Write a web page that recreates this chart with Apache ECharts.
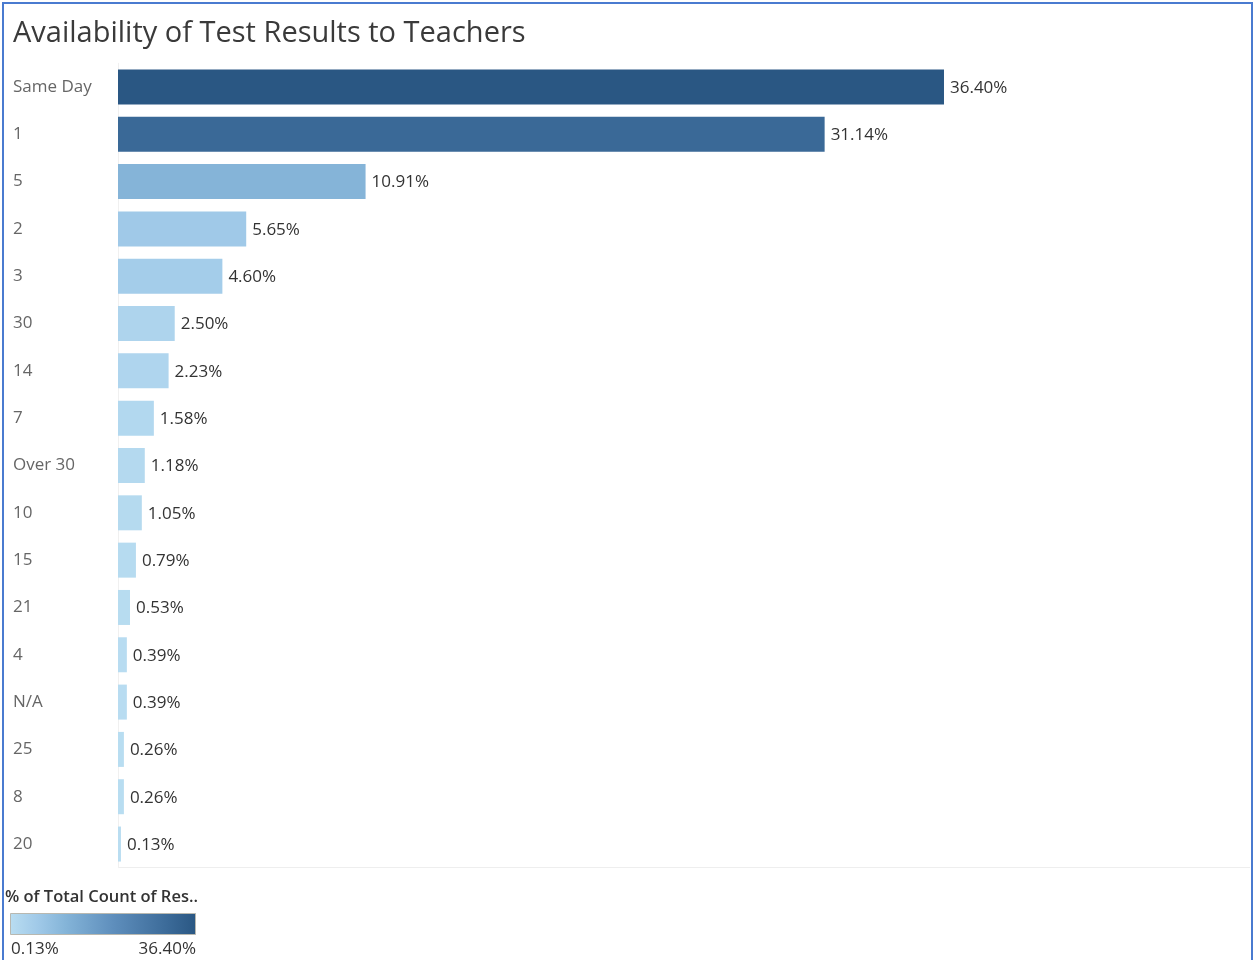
<!DOCTYPE html>
<html>
<head>
<meta charset="utf-8">
<script src="https://cdn.jsdelivr.net/npm/echarts@6/dist/echarts.min.js"></script>
<style>
html,body{margin:0;padding:0;background:#fff;}
#c{width:1254px;height:960px;}
</style>
</head>
<body>
<div id="c"></div>
<script>
const categories = ['Same Day','1','5','2','3','30','14','7','Over 30','10','15','21','4','N/A','25','8','20'];
const values = [36.40,31.14,10.91,5.65,4.60,2.50,2.23,1.58,1.18,1.05,0.79,0.53,0.39,0.39,0.26,0.26,0.13];
const legendTitle = '% of Total Count of Res..';
const legendMin = '0.13%';
const legendMax = '36.40%';

const FONT = 'Open Sans';
const stops = [[0,'#b9ddf1'],[0.15,'#a0c9e8'],[0.3,'#84b4d8'],[0.55,'#5f8fbd'],[0.85,'#3b6a98'],[1,'#2a5783']];
function hex(c){return [parseInt(c.slice(1,3),16),parseInt(c.slice(3,5),16),parseInt(c.slice(5,7),16)];}
function colorAt(t){
  for(let i=1;i<stops.length;i++){
    if(t<=stops[i][0]){
      const a=stops[i-1],b=stops[i];const f=(t-a[0])/(b[0]-a[0]);
      const ca=hex(a[1]),cb=hex(b[1]);
      return 'rgb('+ca.map((v,k)=>Math.round(v+(cb[k]-v)*f)).join(',')+')';
    }
  }
  return stops[stops.length-1][1];
}
const vmin=Math.min(...values), vmax=Math.max(...values);

const chart = echarts.init(document.getElementById('c'));
chart.setOption({
  animation:false,
  title:{text:'Availability of Test Results to Teachers',left:8,top:14,
    textStyle:{fontFamily:FONT,fontSize:29,fontWeight:'normal',color:'#3a3a3a'}},
  grid:{left:118,top:63.3,width:1134.6,height:804.4,containLabel:false,show:false},
  xAxis:{type:'value',min:0,max:50,show:false},
  yAxis:{type:'category',data:categories,inverse:true,
    axisLine:{show:true,lineStyle:{color:'#f0f0f0',width:1}},
    axisTick:{show:false},splitLine:{show:false},
    axisLabel:{align:'left',margin:105,color:'#666',fontFamily:FONT,fontSize:17}},
  series:[{
    type:'bar',barWidth:35,
    data:values.map(v=>({value:v,itemStyle:{color:colorAt((v-vmin)/(vmax-vmin))}})),
    label:{show:true,position:'right',distance:6,color:'#333',fontFamily:FONT,fontSize:17,offset:[0,1],
      formatter:p=>p.value.toFixed(2)+'%'}
  }],
  graphic:[
    {type:'line',shape:{x1:118,y1:867.5,x2:1250,y2:867.5},style:{stroke:'#eeeeee',lineWidth:1}},
    {type:'rect',shape:{x:3,y:3,width:1249,height:962},style:{fill:'none',stroke:'#4a7bd0',lineWidth:2}},
    {type:'text',left:5,top:889,style:{text:legendTitle,fontFamily:FONT,fontSize:16.5,fontWeight:600,fill:'#333'}},
    {type:'rect',shape:{x:10.5,y:913.5,width:185,height:21},
      style:{stroke:'#b8b8b0',lineWidth:1,
        fill:new echarts.graphic.LinearGradient(0,0,1,0,stops.map(s=>({offset:s[0],color:s[1]})))}},
    {type:'text',left:11,top:941,style:{text:legendMin,fontFamily:FONT,fontSize:17,fill:'#333'}},
    {type:'text',right:1254-196,top:941,style:{text:legendMax,fontFamily:FONT,fontSize:17,fill:'#333',textAlign:'right'}}
  ]
});
</script>
</body>
</html>
